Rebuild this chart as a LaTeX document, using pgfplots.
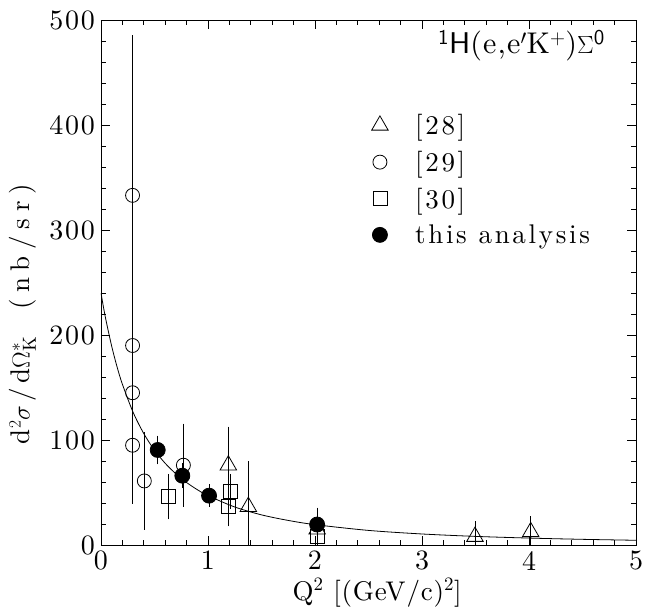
\documentclass[border=0pt]{standalone}
\usepackage{fontspec}
\setmainfont{lmroman10-regular.otf}
\setsansfont{lmsans10-regular.otf}
\usepackage{pgfplots}
\usepackage{pgfplotstable}
\pgfplotsset{compat=1.18}

% [28] triangles
\pgfplotstableread{
x y e
1.19 76 30
1.377 36.5 36.5
2.02 15 5
3.495 8 8
4.016 12.5 8
}\tabA
% [29] open circles
\pgfplotstableread{
x y e
0.295 333 146
0.295 190 84
0.295 145 34
0.295 95 49
0.405 61 40
0.77 76 33
}\tabB
% [30] squares
\pgfplotstableread{
x y e
0.63 46 15
1.21 51 10
1.19 36.5 12
2.02 8 3
}\tabC
% this analysis
\pgfplotstableread{
x y e
0.53 90.5 7
0.76 66 5
1.01 47 4
2.02 19.5 9.5
}\tabD

\begin{document}
\begin{tikzpicture}
\begin{axis}[
  scale only axis, width=535pt, height=525pt,
  xmin=0, xmax=5, ymin=0, ymax=500,
  xtick={0,1,2,3,4,5}, ytick={0,100,200,300,400,500},
  minor x tick num=4, minor y tick num=4,
  tick align=inside,
  major tick length=9pt, minor tick length=5pt,
  axis line style={line width=0.9pt},
  every tick/.style={black, line width=0.8pt},
  tick label style={font=\fontsize{28}{28}\selectfont\addfontfeatures{LetterSpace=6}, inner sep=1pt},
  /pgf/number format/assume math mode=true,
  xticklabel style={yshift=-5pt},
  yticklabel style={xshift=-5pt},
  xlabel={Q\textsuperscript{2} [(GeV/c)\textsuperscript{2}]},
  xlabel style={at={(axis description cs:0.516,0)}, anchor=base, yshift=-55pt,
     font=\fontsize{27}{27}\selectfont\addfontfeatures{LetterSpace=3}},
  ylabel={d$^{2}\sigma$\,/\,d$\Omega^{*}_{\mathrm{K}}$\quad(nb/sr)},
  ylabel style={at={(axis description cs:-0.146,0.44)}, anchor=center,
     font=\fontsize{27}{27}\selectfont\addfontfeatures{LetterSpace=25}},
  legend style={at={(axis cs:2.5,414)}, anchor=north west, draw=none, fill=none,
     font=\fontsize{27}{30}\selectfont\addfontfeatures{LetterSpace=10},
     row sep=11pt, legend cell align=left,
     /tikz/every odd column/.append style={column sep=25pt}},
  error bars/error bar style={line width=0.8pt},
  error bars/error mark options={line width=0.8pt, mark size=7pt},
]
\addplot[no markers, line width=0.8pt, smooth, forget plot] coordinates {
(0,240) (0.025,225.4) (0.05,212.4) (0.1,189.3) (0.15,169.7) (0.2,153.1)
(0.3,126.4) (0.4,106.1) (0.5,90.3) (0.6,77.8) (0.7,67.8) (0.8,59.5)
(0.9,52.7) (1.0,47.0) (1.25,36.2) (1.5,28.7) (1.75,23.4) (2.0,19.4)
(2.5,13.9) (3.0,10.5) (3.5,8.2) (4.0,6.6) (4.5,5.4) (5.0,4.5)};

\addplot[only marks, mark=triangle, mark size=9.5pt,
  mark options={fill=white, line width=0.8pt},
  error bars/.cd, y dir=both, y explicit]
  table[x=x, y=y, y error=e]{\tabA};
\addlegendentry{[28]}

\addplot[only marks, mark=o, mark size=7pt,
  mark options={fill=white, line width=0.8pt},
  error bars/.cd, y dir=both, y explicit]
  table[x=x, y=y, y error=e]{\tabB};
\addlegendentry{[29]}

\addplot[only marks, mark=square, mark size=7pt,
  mark options={fill=white, line width=0.8pt},
  error bars/.cd, y dir=both, y explicit]
  table[x=x, y=y, y error=e]{\tabC};
\addlegendentry{[30]}

\addplot[only marks, mark=*, mark size=7.5pt,
  mark options={fill=black, line width=0.8pt},
  error bars/.cd, y dir=both, y explicit]
  table[x=x, y=y, y error=e]{\tabD};
\addlegendentry{this analysis}

\node[anchor=east, inner sep=0pt, font=\fontsize{30}{30}\selectfont\addfontfeatures{LetterSpace=4}]
  at (axis cs:4.71,476) {\textsuperscript{\sffamily 1}{\sffamily H}(e,e$'$K$^{+}$)$\Sigma^{\mathsf{0}}$};
\end{axis}
\pgfresetboundingbox
\path[use as bounding box] (-101pt,-63pt) rectangle (544pt,545pt);
\end{tikzpicture}
\end{document}
